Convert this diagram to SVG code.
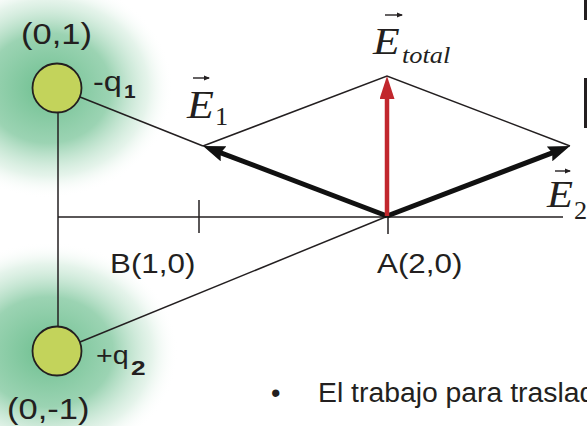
<svg xmlns="http://www.w3.org/2000/svg" width="587" height="426" viewBox="0 0 587 426">
<style>
.ln{stroke:#231f20;stroke-width:1.5;fill:none}
.vec{stroke:#111;stroke-width:5;fill:none}
.red{stroke:#c1272d;stroke-width:4.5;fill:none}
.acc{stroke:#231f20;stroke-width:1.4;fill:none}
.chg{fill:#c3d35b;stroke:#231f20;stroke-width:1.8}
.sans{font-family:"Liberation Sans",Arial,sans-serif;fill:#231f20}
.serif{font-family:"Liberation Serif","Times New Roman",serif;fill:#231f20}
.it{font-style:italic}
.b{font-weight:bold}
</style>
<defs>
<radialGradient id="glow">
<stop offset="0" stop-color="#5db883" stop-opacity="0.9"/>
<stop offset="0.5" stop-color="#66bc8a" stop-opacity="0.65"/>
<stop offset="0.8" stop-color="#a8d9bb" stop-opacity="0.3"/>
<stop offset="1" stop-color="#ffffff" stop-opacity="0"/>
</radialGradient>
<marker id="hk" markerUnits="userSpaceOnUse" viewBox="0 0 22 16" refX="10" refY="8" markerWidth="22" markerHeight="16" orient="auto">
<path d="M0,0 L22,8 L0,16 L3,8 z" fill="#111"/>
</marker>
<marker id="hr" markerUnits="userSpaceOnUse" viewBox="0 0 23 15" refX="11" refY="7.5" markerWidth="23" markerHeight="15" orient="auto">
<path d="M0,0 L23,7.5 L0,15 z" fill="#c1272d"/>
</marker>
<marker id="ha" markerUnits="userSpaceOnUse" viewBox="0 0 6 6" refX="5" refY="3" markerWidth="6" markerHeight="6" orient="auto">
<path d="M0,0.5 L6,3 L0,5.5 z" fill="#231f20"/>
</marker>
</defs>
<rect width="587" height="426" fill="#ffffff"/>
<g id="glows">
<ellipse cx="48" cy="88" rx="125" ry="110" fill="url(#glow)"/>
<ellipse cx="48" cy="352" rx="130" ry="110" fill="url(#glow)"/>
</g>
<rect x="584" y="0" width="3" height="20" fill="#231f20"/>
<rect x="584" y="78" width="3" height="50" fill="#231f20"/>
<g id="connectors">
<line class="ln" x1="58" y1="113" x2="58" y2="327"/>
<line class="ln" x1="58" y1="217" x2="563" y2="217"/>
<line class="ln" x1="199" y1="200" x2="199" y2="233"/>
<line class="ln" x1="388" y1="205" x2="388" y2="234"/>
<line class="ln" x1="80" y1="97" x2="203" y2="146"/>
<line class="ln" x1="80" y1="342" x2="388" y2="216"/>
<polyline class="ln" points="203,146 387,76 570,146"/>
<line class="vec" x1="387" y1="216" x2="214.2" y2="150.3" marker-end="url(#hk)"/>
<line class="vec" x1="387" y1="216" x2="558.8" y2="150.3" marker-end="url(#hk)"/>
<line class="red" x1="387" y1="216" x2="387" y2="88" marker-end="url(#hr)"/>
</g>
<g id="q1">
<circle class="chg" cx="57" cy="88" r="24.5"/>
<text class="sans" font-size="30" transform="translate(21,44) scale(1.15,1)">(0,1)</text>
<text class="sans" font-size="27" transform="translate(93,91) scale(1.2,1)">-q</text>
<text class="sans b" font-size="19" transform="translate(124,98) scale(1.1,1)">1</text>
</g>
<g id="q2">
<circle class="chg" cx="57" cy="351" r="24.5"/>
<text class="sans" font-size="30" transform="translate(7,419) scale(1.15,1)">(0,-1)</text>
<text class="sans" font-size="26" transform="translate(96,364) scale(1.1,1)">+q</text>
<text class="sans b" font-size="21" transform="translate(131,375) scale(1.25,1)">2</text>
</g>
<g id="pointB">
<text class="sans" font-size="28" transform="translate(110,273) scale(1.12,1)">B(1,0)</text>
</g>
<g id="pointA">
<text class="sans" font-size="28" transform="translate(377,273) scale(1.12,1)">A(2,0)</text>
</g>
<g id="E1">
<line class="acc" x1="193" y1="78" x2="209" y2="78" marker-end="url(#ha)"/>
<text class="serif it" font-size="40" transform="translate(187,118) scale(1.1,1)">E</text>
<text class="serif" font-size="25" transform="translate(215,125) scale(1.05,1)">1</text>
</g>
<g id="Etotal">
<line class="acc" x1="385" y1="15" x2="402" y2="15" marker-end="url(#ha)"/>
<text class="serif it" font-size="38" transform="translate(373,54) scale(1.15,1)">E</text>
<text class="serif it" font-size="24" transform="translate(402,63) scale(1.1,1)">total</text>
</g>
<g id="E2">
<line class="acc" x1="555" y1="171" x2="570" y2="171" marker-end="url(#ha)"/>
<text class="serif it" font-size="37" transform="translate(547,207) scale(1.15,1)">E</text>
<text class="serif" font-size="25" transform="translate(574,219) scale(1.05,1)">2</text>
</g>
<g id="note">
<text class="sans" font-size="27" x="271" y="402">•</text>
<text class="sans" font-size="27" transform="translate(318,402) scale(1.05,1)">El trabajo para traslad</text>
</g>
</svg>
